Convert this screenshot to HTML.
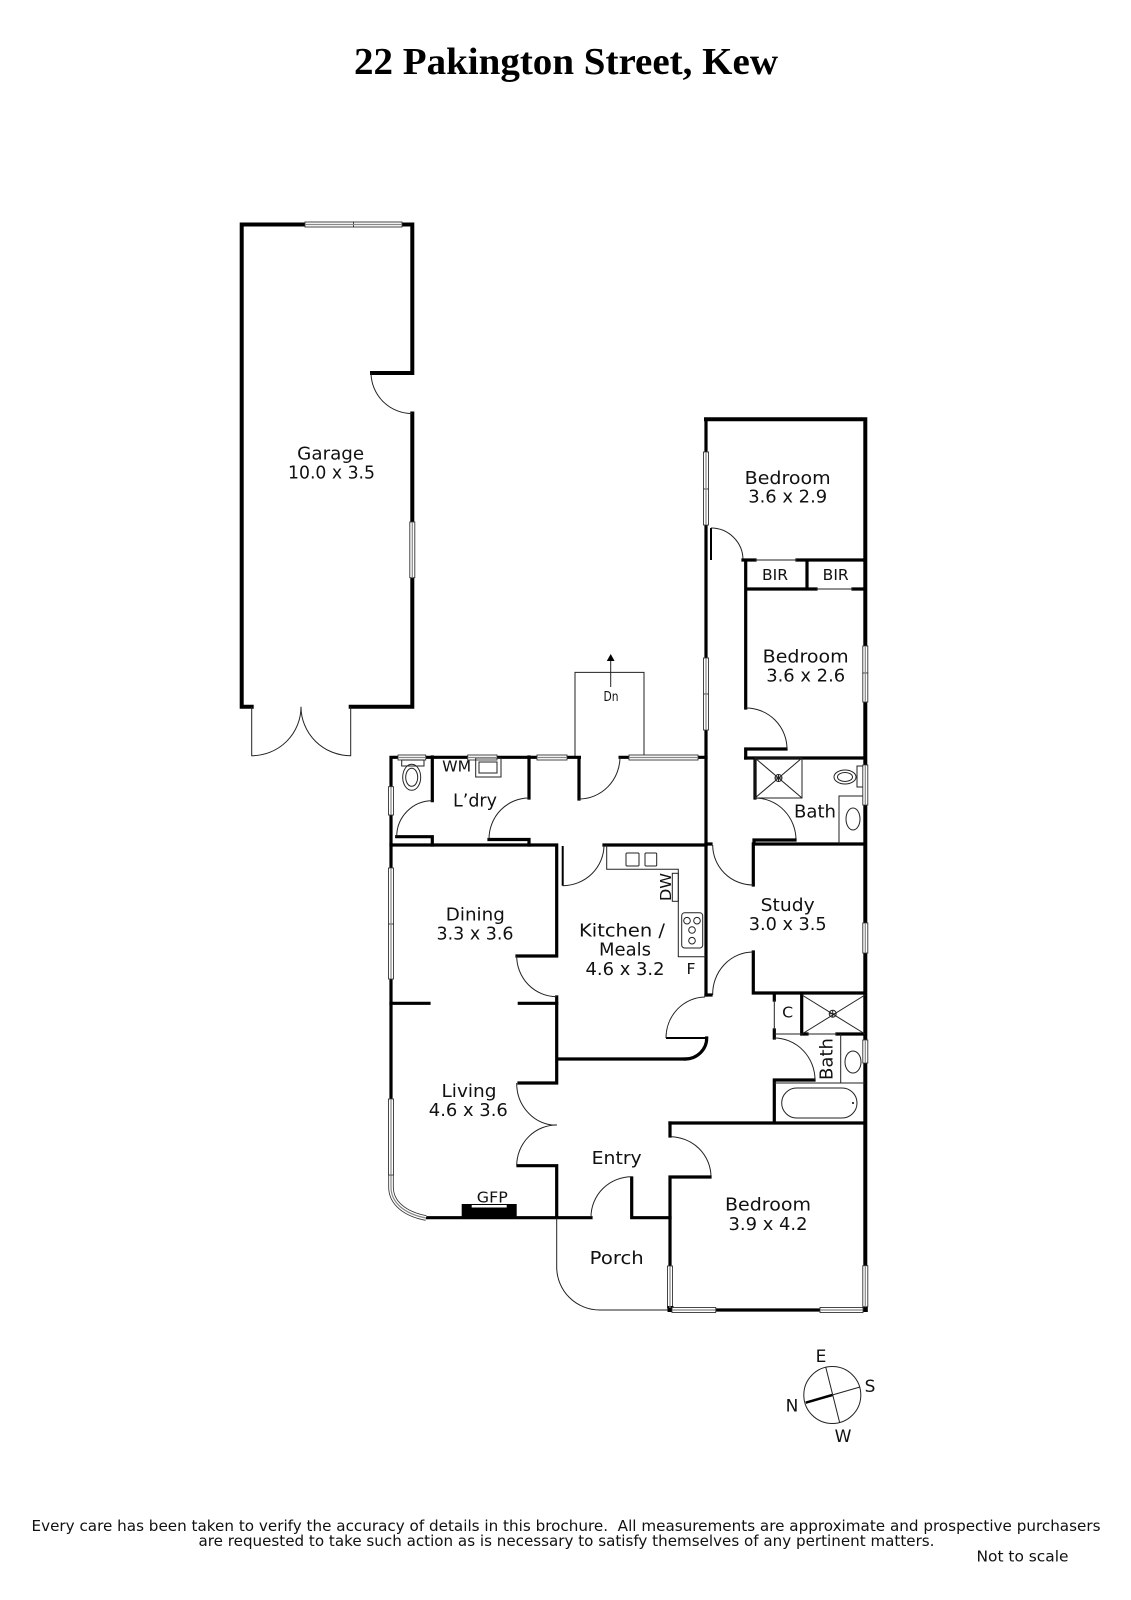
<!DOCTYPE html>
<html><head><meta charset="utf-8"><title>22 Pakington Street, Kew</title>
<style>
html,body{margin:0;padding:0;background:#fff}
svg{display:block}
text{font-family:"DejaVu Sans",sans-serif;fill:#111;text-anchor:middle}
.w{fill:none;stroke:#000;stroke-width:3.2;stroke-linecap:square;stroke-linejoin:miter}
.o{fill:none;stroke:#000;stroke-width:4;stroke-linecap:square;stroke-linejoin:miter}
.m{fill:none;stroke:#000;stroke-width:2;stroke-linecap:butt}
.t{fill:none;stroke:#222;stroke-width:1}
.win{fill:#fff;stroke:#333;stroke-width:.9}
.c{fill:none;stroke:#888;stroke-width:1.200}
</style></head><body>
<svg xmlns="http://www.w3.org/2000/svg" width="1131" height="1600" viewBox="0 0 1131 1600">
<rect width="1131" height="1600" fill="#fff"/>

<!-- Garage -->
<path class="o" d="M305 224.500H241.700V706.700H251.700M350.700 706.700H412.300V577M412.300 522V413.500M412.300 373V224.500H402M412.300 373H372"/>
<path class="t" d="M251.700 706.700V755.700A49 49 0 0 0 301 706.700A49.700 49 0 0 0 350.700 755.700V706.700M371 373A41 41 0 0 0 412 413.500" stroke-width="1.300"/>
<rect class="win" x="305" y="222" width="48.500" height="5"/><rect class="win" x="353.500" y="222" width="48.500" height="5"/>
<rect class="win" x="409.800" y="522" width="5" height="55.700"/>

<!-- Right block outer walls -->
<path class="w" d="M706 995V419.300"/>
<path class="o" d="M706 419.300H865.300V1310"/>
<path class="w" d="M706 995H711"/>
<path class="m" d="M711 528V560"/>
<path class="t" d="M711 528A32 32 0 0 1 743 560"/>
<path class="w" d="M743 560H755M797 560H865M745.700 560V708M745.700 749V758M745.700 749H786M745.700 589H816M853 589H865M807 560V589"/>
<path class="t" d="M755 560H797M816 589H853"/>
<path class="t" d="M746 708A41 41 0 0 1 787 749"/>
<path class="w" d="M745.700 758H865M755 758V798"/>
<path class="t" d="M755 758H802V798H755ZM755 758L802 798M802 758L755 798"/>
<circle class="t" cx="778.500" cy="778" r="3.500"/><path class="t" d="M775 778H782M778.500 774.500V781.500"/>
<path class="t" d="M755 798A41 42 0 0 1 796 840"/>
<path class="w" d="M755 840H795M754 840V844M754 844H865M706 844H711"/>
<ellipse class="t" cx="845" cy="777" rx="11" ry="7"/><ellipse class="t" cx="845" cy="777" rx="7.500" ry="4.500"/>
<rect class="t" x="857" y="766" width="6" height="21" fill="#fff"/>
<path class="t" d="M865 796H839V844"/>
<ellipse class="t" cx="853" cy="819" rx="7" ry="11"/>

<!-- Study -->
<path class="w" d="M753.300 844V885M753.300 952V993H865M774.300 993V1000M774.300 1030V1038M774.300 1080H814M774.300 1080V1123M670 1123H865M801.700 993V1034H807M837 1034H865"/>
<path class="t" d="M712.700 845A40.500 40 0 0 0 753 885M753 952A40.500 42 0 0 0 712.700 995"/>
<path class="t" d="M774.300 1000V1030M774.300 1034H802M807 1034H837"/>
<path class="t" d="M802 995L865 1034M865 995L802 1034"/>
<circle class="t" cx="832.700" cy="1013.700" r="3.500"/><path class="t" d="M829 1013.700H836.400M832.700 1010V1017.400"/>
<path class="t" d="M774 1038A41 42 0 0 1 815 1080"/>
<path class="t" d="M774 1083H865M840.700 1034V1083"/>
<ellipse class="t" cx="853" cy="1062" rx="8" ry="11"/>
<rect class="t" x="781.700" y="1088" width="75.300" height="30" rx="15" ry="15"/>
<circle cx="853" cy="1103" r="1" fill="#000"/>

<!-- Stairs -->
<path class="t" d="M575 757V672.400H644V757"/>
<path class="t" d="M610.700 687V660" stroke-width="1.200"/>
<path d="M610.700 654L606.800 661H614.600Z" fill="#000"/>

<!-- Rear wall + laundry -->
<path class="w" d="M391 1099V757.300H706M579 757.300V799M620 757.300H629"/>
<path class="w" d="M432.300 757V800.700M432.300 836.700V845M396.700 836.700H432M529 757V798M529 839.500V845M489 839.500H529"/>
<path class="t" d="M432.300 800.700A35.600 36 0 0 0 396.700 836.700M529 798A40 41 0 0 0 489 839"/>
<rect fill="#fff" x="581" y="755" width="37.500" height="5"/>
<path class="t" d="M579 799A41 42 0 0 0 620 757"/>
<rect class="win" x="398" y="755" width="27.700" height="5"/>
<rect class="win" x="467.700" y="755" width="29.300" height="5"/>
<rect class="win" x="537" y="755" width="30" height="5"/>
<rect class="win" x="629" y="755" width="69" height="5"/>
<rect class="win" x="388.500" y="786.700" width="5" height="28.300"/>
<rect class="win" x="388.500" y="868" width="5" height="56"/>
<rect class="win" x="388.500" y="924" width="5" height="55"/>
<rect class="t" x="401.700" y="760" width="22.300" height="6" fill="#fff"/>
<ellipse class="t" cx="411.700" cy="777.300" rx="9" ry="13"/><ellipse class="t" cx="411.700" cy="777.300" rx="6" ry="9"/>
<rect class="t" x="475.700" y="758" width="25.300" height="19"/>
<rect class="t" x="479" y="762" width="18" height="11"/>

<!-- Main cross wall / kitchen -->
<path class="w" d="M391 845H556.700M604 845H706M556.700 845V956M517 956H556.700M556.700 997V1083M519 1083H556.700M556.700 1059H685"/>
<path class="m" d="M562.700 846V885.700"/>
<path class="t" d="M562.700 885.700A41.300 40.700 0 0 0 604 845M516.700 956A40 40.700 0 0 0 556.700 996.700"/>
<path class="w" d="M391 1003.300H429M519.300 1003.300H556.700"/>
<path class="w" d="M685 1059A21.700 21 0 0 0 706.700 1038"/>
<path class="m" d="M666 1038H706"/>
<path class="t" d="M666 1038A39.500 41 0 0 1 705 997"/>
<path class="t" d="M606.700 845V869.300H678.300V956.700H706"/>
<rect class="t" x="626" y="853" width="13" height="13" rx="1"/><rect class="t" x="645" y="853" width="11.700" height="13" rx="1"/>
<rect class="t" x="672.300" y="873.300" width="6" height="28" fill="#fff"/>
<rect class="t" x="681.700" y="912.700" width="21" height="35.300" rx="3"/>
<circle class="t" cx="687" cy="920.700" r="3.300"/><circle class="t" cx="697" cy="920.700" r="3.300"/><circle class="t" cx="692" cy="930" r="3.300"/><circle class="t" cx="692" cy="940.700" r="3.300"/>

<!-- Living / entry -->
<path class="w" d="M518 1165.700H556.700V1217.700M426 1217.700H591M631.700 1178V1217.700H670"/>
<path class="t" d="M516.700 1083A40 42 0 0 0 552 1125H557A40 40.700 0 0 0 516.700 1165.700M591 1217A40.700 40.300 0 0 1 631.700 1176.700M670 1136.700A41 40.300 0 0 1 711 1177"/>
<path class="w" d="M670 1123V1136M670 1177H710M670 1177V1266"/>
<path class="t" d="M556.700 1217.700V1267A43 43 0 0 0 600 1310H670"/>
<path d="M391 1175V1187C391 1203 405 1214 426 1218" fill="none" stroke="#333" stroke-width="5.500"/>
<path d="M391 1175V1187C391 1203 405 1214 426 1218" fill="none" stroke="#fff" stroke-width="3.800"/>
<path d="M391 1175V1187C391 1203 405 1214 426 1218" class="c"/>
<rect class="win" x="388.500" y="1099" width="5" height="76"/>
<rect x="461.700" y="1204" width="55" height="15" fill="#000"/>
<rect x="471.700" y="1205" width="35" height="2.500" fill="#fff"/>

<!-- Front bedroom -->
<path class="w" d="M670 1310H865"/>
<rect class="win" x="667.500" y="1266" width="5" height="42"/>
<rect x="862.800" y="1305" width="5" height="7" fill="#000"/>
<rect x="667.500" y="1306" width="6" height="6" fill="#000"/>
<rect class="win" x="672" y="1307.500" width="43.700" height="5"/>
<rect class="win" x="820" y="1307.500" width="43" height="5"/>
<rect class="win" x="862.800" y="1265.700" width="5" height="41"/>

<!-- Right wall windows -->
<rect class="win" x="703.500" y="452" width="5" height="37"/><rect class="win" x="703.500" y="489" width="5" height="36"/>
<rect class="win" x="703.500" y="658" width="5" height="36"/><rect class="win" x="703.500" y="694" width="5" height="36"/>
<rect class="win" x="862.800" y="646" width="5" height="27"/><rect class="win" x="862.800" y="673" width="5" height="29"/>
<rect class="win" x="862.800" y="765" width="5" height="40"/>
<rect class="win" x="862.800" y="923" width="5" height="30"/>
<rect class="win" x="862.800" y="1040" width="5" height="23"/>

<!-- Window centre lines -->
<path class="c" d="M305 224.500H402M412.300 522V577.700M398 757.500H425.700M467.700 757.500H497M537 757.500H567M629 757.500H698M391 786.700V815M391 868V979M391 1099V1175M670 1266V1308M672 1310H715.700M820 1310H863M865.300 1265.700V1306.700M706 452V525M706 658V730M865.300 646V702M865.300 765V805M865.300 923V953M865.300 1040V1063"/>

<!-- Compass -->
<circle class="t" cx="832.300" cy="1395" r="28.500"/>
<path class="t" d="M825.700 1367L839.700 1422.700M832.300 1395L860 1387"/>
<path d="M832.300 1395L805.700 1402.700" stroke="#000" stroke-width="2.500"/>

<!-- Title and labels -->
<text x="566" y="74" textLength="424" lengthAdjust="spacingAndGlyphs" style="font-family:'Liberation Serif',serif;font-weight:bold;font-size:38px;fill:#000">22 Pakington Street, Kew</text>

<g font-size="18">
<text x="330.700" y="459.500" textLength="67" lengthAdjust="spacingAndGlyphs">Garage</text>
<text x="331.500" y="478.500" textLength="87" lengthAdjust="spacingAndGlyphs">10.0 x 3.5</text>
<text x="787.700" y="484" textLength="86" lengthAdjust="spacingAndGlyphs">Bedroom</text>
<text x="787.700" y="502.700" textLength="79" lengthAdjust="spacingAndGlyphs">3.6 x 2.9</text>
<text x="805.700" y="662.300" textLength="86" lengthAdjust="spacingAndGlyphs">Bedroom</text>
<text x="805.700" y="681.700" textLength="79" lengthAdjust="spacingAndGlyphs">3.6 x 2.6</text>
<text x="815" y="817.700" textLength="42" lengthAdjust="spacingAndGlyphs">Bath</text>
<text x="475" y="806.700" textLength="44" lengthAdjust="spacingAndGlyphs">L’dry</text>
<text x="475.300" y="920.700" textLength="59" lengthAdjust="spacingAndGlyphs">Dining</text>
<text x="475" y="939.300" textLength="77" lengthAdjust="spacingAndGlyphs">3.3 x 3.6</text>
<text x="622" y="936.700" textLength="86" lengthAdjust="spacingAndGlyphs">Kitchen /</text>
<text x="625" y="955.700" textLength="52" lengthAdjust="spacingAndGlyphs">Meals</text>
<text x="625" y="975" textLength="79" lengthAdjust="spacingAndGlyphs">4.6 x 3.2</text>
<text x="787.700" y="911" textLength="54" lengthAdjust="spacingAndGlyphs">Study</text>
<text x="787.700" y="930" textLength="78" lengthAdjust="spacingAndGlyphs">3.0 x 3.5</text>
<text x="469" y="1097" textLength="55" lengthAdjust="spacingAndGlyphs">Living</text>
<text x="468.300" y="1116" textLength="79" lengthAdjust="spacingAndGlyphs">4.6 x 3.6</text>
<text x="616.700" y="1164" textLength="50" lengthAdjust="spacingAndGlyphs">Entry</text>
<text x="616.700" y="1264" textLength="54" lengthAdjust="spacingAndGlyphs">Porch</text>
<text x="768" y="1210.700" textLength="86" lengthAdjust="spacingAndGlyphs">Bedroom</text>
<text x="768" y="1230" textLength="79" lengthAdjust="spacingAndGlyphs">3.9 x 4.2</text>
<text transform="translate(832.300 1059) rotate(-90)" x="0" y="0" textLength="42" lengthAdjust="spacingAndGlyphs">Bath</text>
</g>
<g font-size="15">
<text x="775" y="580" textLength="26" lengthAdjust="spacingAndGlyphs">BIR</text>
<text x="835.700" y="580" textLength="26" lengthAdjust="spacingAndGlyphs">BIR</text>
<text x="456.700" y="771.500" textLength="29" lengthAdjust="spacingAndGlyphs">WM</text>
<text x="787.700" y="1017.700" textLength="11" lengthAdjust="spacingAndGlyphs">C</text>
<text x="691" y="974" textLength="9" lengthAdjust="spacingAndGlyphs">F</text>
<text x="492.300" y="1202.300" textLength="31" lengthAdjust="spacingAndGlyphs">GFP</text>
<text transform="translate(671 887) rotate(-90)" x="0" y="0" textLength="28" lengthAdjust="spacingAndGlyphs">DW</text>
</g>
<text x="611" y="701" font-size="13" textLength="15" lengthAdjust="spacingAndGlyphs">Dn</text>

<g font-size="17">
<text x="821" y="1362">E</text>
<text x="870" y="1392">S</text>
<text x="792" y="1411.500">N</text>
<text x="843" y="1442">W</text>
</g>

<g font-size="15">
<text x="566" y="1531" textLength="1069" lengthAdjust="spacingAndGlyphs" xml:space="preserve">Every care has been taken to verify the accuracy of details in this brochure.  All measurements are approximate and prospective purchasers</text>
<text x="566.500" y="1546" textLength="736" lengthAdjust="spacingAndGlyphs">are requested to take such action as is necessary to satisfy themselves of any pertinent matters.</text>
<text x="1022.500" y="1561.700" textLength="92" lengthAdjust="spacingAndGlyphs">Not to scale</text>
</g>
</svg>
</body></html>
